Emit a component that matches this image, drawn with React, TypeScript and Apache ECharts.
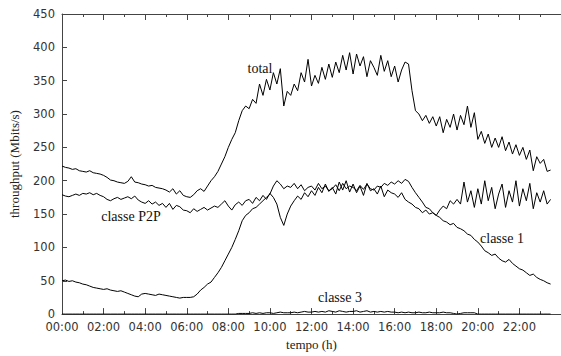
import React, { useEffect, useRef } from "react";
import * as echarts from "echarts";

// sampling step of the series, in minutes (one value every 10 minutes from 00:00)
const SAMPLE_MINUTES = 10;

const total = [
  222, 220, 219, 217, 218, 215,
  214, 213, 215, 212, 211, 210,
  208, 205, 201, 200, 198, 197,
  196, 199, 206, 198, 197, 195,
  194, 192, 193, 190, 189, 188,
  186, 183, 188, 180, 185, 178,
  176, 175, 179, 185, 188, 184,
  192, 200, 206, 214, 225, 236,
  250, 262, 272, 290, 305, 312,
  308, 322, 316, 345, 328, 352,
  336, 362, 345, 368, 312, 334,
  328, 345, 335, 362, 348, 382,
  342, 358, 346, 370, 352, 375,
  355, 378, 362, 388, 366, 392,
  360, 390, 372, 386, 356, 380,
  370, 358, 388, 364, 380, 356,
  372, 348, 366, 378, 375, 335,
  305, 300, 290, 298, 286, 296,
  282, 296, 272, 292, 280, 300,
  276, 298, 284, 312, 280, 302,
  262, 274, 256, 270, 250, 264,
  250, 266, 245, 258, 240, 254,
  238, 250, 232, 246, 215, 236,
  226, 232, 214, 216,
];

const classeP2P = [
  179, 177, 176, 178, 180, 178,
  181, 180, 182, 179, 181, 178,
  176, 172, 170, 173, 175, 172,
  174, 176, 173, 177, 171, 168,
  166, 170, 165, 168, 163, 166,
  160, 166, 157, 163, 161, 156,
  155, 152, 158, 154, 157, 160,
  156, 159, 162, 160, 165, 170,
  162, 156, 164, 168, 163, 170,
  172, 166, 175, 170, 178, 172,
  181, 175, 165, 145, 133, 150,
  162, 170, 177, 172, 182, 176,
  185, 178, 190, 182, 195, 184,
  190, 180, 198, 186, 200, 183,
  195, 182, 192, 178, 196, 185,
  188, 180, 192, 176, 186, 182,
  180, 175, 182, 172, 168, 165,
  160, 158, 152, 156, 150, 152,
  148, 156, 162, 158, 170, 165,
  172, 165, 198, 168, 185, 160,
  188, 165, 200, 170, 190, 158,
  180, 195, 160, 185, 168, 200,
  162, 188, 170, 196, 158, 182,
  168, 185, 165, 172,
];

const classe1 = [
  50, 51, 49, 50, 48, 47,
  45, 44, 42, 40, 39, 38,
  37, 38, 36, 35, 34, 35,
  33, 31, 29, 27, 26, 30,
  31, 30, 29, 28, 30, 29,
  28, 27, 26, 25, 24, 25,
  25, 25, 26, 30, 36, 40,
  45, 48, 55, 62, 70, 80,
  90, 100, 112, 125, 140, 148,
  152, 158, 160, 165, 170, 175,
  180, 192, 200, 195, 188, 192,
  190, 196, 188, 194, 185, 190,
  192, 186, 196, 188, 192, 185,
  188, 194, 185, 196, 188, 192,
  190, 185, 193, 187, 195, 188,
  186, 192, 190, 196, 193, 198,
  195, 200, 196, 202, 199, 190,
  182, 175, 168, 160, 158, 152,
  148, 145, 140, 138, 134, 136,
  130, 128, 125, 120, 118, 112,
  108, 102, 95, 92, 88, 90,
  84, 80, 78, 82, 76, 72,
  68, 66, 62, 58, 60, 55,
  52, 50, 47, 45,
];

const classe3 = [
  0, 0, 0, 0, 0, 0,
  0, 0, 0, 0, 0, 0,
  0, 0, 0, 0, 0, 0,
  0, 0, 0, 0, 0, 0,
  0, 0, 0, 0, 0, 0,
  0, 0, 0, 0, 0, 0,
  0, 0, 0, 0, 0, 0,
  0, 0, 0, 0, 0, 0,
  0, 0, 0, 1, 1, 1,
  1, 2, 1, 2, 1, 2,
  2, 1, 2, 3, 2, 2,
  2, 3, 2, 3, 4, 3,
  3, 4, 3, 4, 3, 5,
  4, 3, 5, 4, 3, 4,
  4, 5, 3, 4, 5, 3,
  4, 3, 4, 3, 4, 3,
  3, 2, 3, 2, 3, 2,
  2, 3, 2, 2, 3, 2,
  2, 2, 3, 2, 2, 1,
  0, 1, 2, 2, 2, 2,
  0, 0, 0, 0, 0, 0,
  0, 0, 0, 0, 0, 0,
  0, 0, 0, 0, 0, 0,
  0, 0, 0, 0,
];

const seriesNames = ["total", "classe P2P", "classe 1", "classe 3"];
const yTicks = [0, 50, 100, 150, 200, 250, 300, 350, 400, 450];
const xAxisName = "tempo (h)";
const yAxisName = "throughput (Mbits/s)";

const toPoints = (values: number[]) =>
  values.map((v, i) => [(i * SAMPLE_MINUTES) / 60, v]);

const hourLabel = (v: number) => {
  if (Math.abs(v - Math.round(v)) > 1e-6) return "";
  const h = Math.round(v);
  return (h < 10 ? "0" + h : "" + h) + ":00";
};

export default function App() {
  const ref = useRef<HTMLDivElement>(null);

  useEffect(() => {
    if (!ref.current) return;
    const chart = echarts.init(ref.current, undefined, { renderer: "svg" });
    const axisColor = "#444";
    const serif = "'Liberation Serif', 'Times New Roman', serif";
    const sans = "'DejaVu Sans', sans-serif";
    const lineStyle = { color: "#000", width: 1 };
    const allSeries = [total, classeP2P, classe1, classe3];

    chart.setOption({
      animation: false,
      backgroundColor: "#fff",
      grid: { left: 62, top: 14, right: -12, bottom: 38, containLabel: false },
      xAxis: [
        {
          type: "value",
          min: 0,
          max: 24,
          interval: 2,
          position: "bottom",
          name: xAxisName,
          nameLocation: "middle",
          nameGap: 23,
          nameTextStyle: { fontFamily: serif, fontSize: 13, color: "#222" },
          axisLine: { lineStyle: { color: axisColor, width: 1 } },
          axisTick: { inside: true, length: 6, lineStyle: { color: axisColor } },
          minorTick: { show: true, splitNumber: 2, length: 3, lineStyle: { color: axisColor } },
          axisLabel: {
            formatter: hourLabel,
            fontFamily: sans,
            fontSize: 11.5,
            color: "#333",
            margin: 7,
            showMaxLabel: false,
          },
          splitLine: { show: false },
        },
        {
          type: "value",
          min: 0,
          max: 24,
          interval: 2,
          position: "top",
          axisLine: { lineStyle: { color: axisColor, width: 1 } },
          axisTick: { inside: true, length: 6, lineStyle: { color: axisColor } },
          minorTick: { show: true, splitNumber: 2, length: 3, lineStyle: { color: axisColor } },
          axisLabel: { show: false },
          splitLine: { show: false },
        },
      ],
      yAxis: {
        type: "value",
        min: yTicks[0],
        max: yTicks[yTicks.length - 1],
        interval: 50,
        name: yAxisName,
        nameLocation: "middle",
        nameGap: 41,
        nameTextStyle: { fontFamily: serif, fontSize: 13, color: "#222" },
        axisLine: { show: true, lineStyle: { color: axisColor, width: 1 } },
        axisTick: { show: true, inside: true, length: 5, lineStyle: { color: axisColor } },
        axisLabel: { fontFamily: sans, fontSize: 11.5, color: "#333", margin: 7 },
        splitLine: { show: false },
      },
      series: allSeries.map((vals, i) => ({
        name: seriesNames[i],
        type: "line",
        xAxisIndex: 0,
        data: toPoints(vals),
        showSymbol: false,
        symbol: "none",
        lineStyle,
        clip: true,
        z: 3,
      })),
      graphic: [
        { type: "text", x: 260, y: 68, style: { text: seriesNames[0], font: "14px " + serif, fill: "#111", align: "center", verticalAlign: "middle" } },
        { type: "text", x: 131, y: 216, style: { text: seriesNames[1], font: "14px " + serif, fill: "#111", align: "center", verticalAlign: "middle" } },
        { type: "text", x: 502, y: 238, style: { text: seriesNames[2], font: "14px " + serif, fill: "#111", align: "center", verticalAlign: "middle" } },
        { type: "text", x: 340, y: 297, style: { text: seriesNames[3], font: "14px " + serif, fill: "#111", align: "center", verticalAlign: "middle" } },
      ],
    });

    return () => chart.dispose();
  }, []);

  return (
    <div
      ref={ref}
      style={{ position: "fixed", left: 0, top: 0, width: 561, height: 356, background: "#fff" }}
    />
  );
}
